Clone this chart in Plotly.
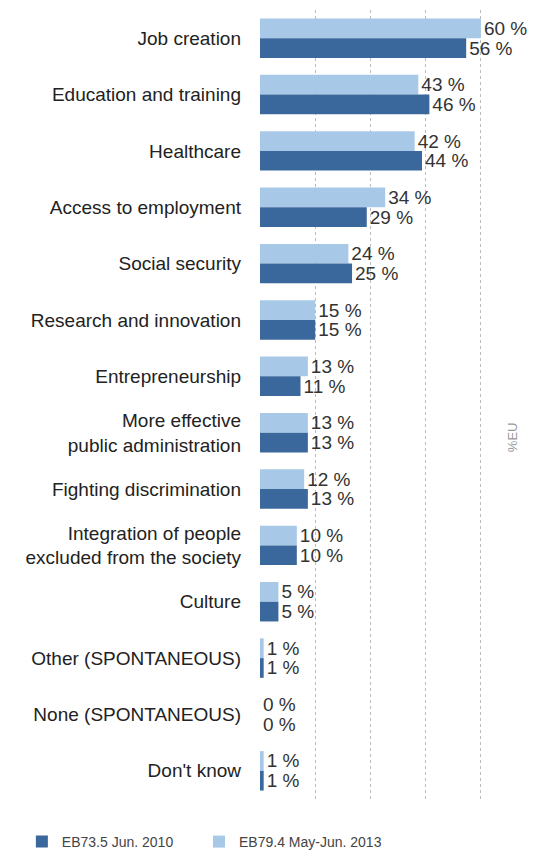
import plotly.graph_objects as go

categories = ["Job creation", "Education and training", "Healthcare", "Access to employment",
              "Social security", "Research and innovation", "Entrepreneurship",
              "More effective<br>public administration", "Fighting discrimination",
              "Integration of people<br>excluded from the society", "Culture",
              "Other (SPONTANEOUS)", "None (SPONTANEOUS)", "Don't know"]
values_2013 = [60, 43, 42, 34, 24, 15, 13, 13, 12, 10, 5, 1, 0, 1]
values_2010 = [56, 46, 44, 29, 25, 15, 11, 13, 13, 10, 5, 1, 0, 1]
name_2010 = "EB73.5 Jun. 2010"
name_2013 = "EB79.4 May-Jun. 2013"

LIGHT = "#a8c8e8"
DARK = "#3b689c"
FONT = "Liberation Sans, Arial, sans-serif"

fig = go.Figure()
fig.add_trace(go.Bar(
    y=categories, x=values_2013, orientation="h", name=name_2013,
    marker=dict(color=LIGHT, line=dict(width=0)),
    text=[f"{v} %" for v in values_2013], textposition="outside",
    textfont=dict(size=19, color="#333", family=FONT),
    cliponaxis=False, constraintext="none", legend="legend2",
))
fig.add_trace(go.Bar(
    y=categories, x=values_2010, orientation="h", name=name_2010,
    marker=dict(color=DARK, line=dict(width=0)),
    text=[f"{v} %" for v in values_2010], textposition="outside",
    textfont=dict(size=19, color="#333", family=FONT),
    cliponaxis=False, constraintext="none", legend="legend",
))

legend_common = dict(orientation="h", y=-0.0545, xanchor="left", yanchor="middle",
                     font=dict(size=14, color="#444"), itemwidth=30,
                     bgcolor="rgba(0,0,0,0)")

fig.update_layout(
    width=533, height=853,
    margin=dict(l=260, r=30, t=10, b=54, autoexpand=False),
    barmode="group", bargap=0.3, bargroupgap=0,
    plot_bgcolor="white", paper_bgcolor="white",
    font=dict(family=FONT, color="#222"),
    showlegend=True,
    legend=dict(x=-0.98, **legend_common),
    legend2=dict(x=-0.251, **legend_common),
    xaxis=dict(range=[0, 66], showticklabels=False, showgrid=True, dtick=15, tick0=0,
               gridcolor="#bbbbbb", griddash="dot", gridwidth=1, zeroline=False,
               showline=False, ticks=""),
    yaxis=dict(autorange="reversed", showgrid=False, showline=False, ticks="",
               tickfont=dict(size=19, color="#222", family=FONT), ticklabelstandoff=18),
    annotations=[dict(text="%EU", x=1, xref="paper", y=0.458, yref="paper", xshift=19,
                      textangle=-90, showarrow=False, font=dict(size=13, color="#999", family=FONT))],
)

fig.write_html("out.html")
